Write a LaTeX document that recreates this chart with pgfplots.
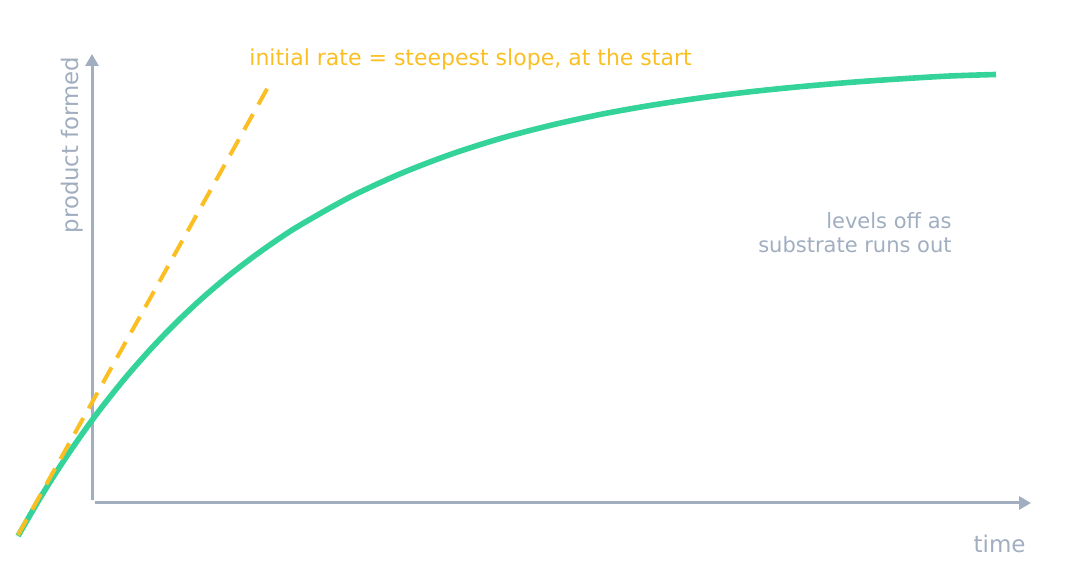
\documentclass[border=0pt]{standalone}
\usepackage{fontspec}
\setmainfont{DejaVu Sans}
\usepackage{pgfplots}
\pgfplotsset{compat=1.18}
\usetikzlibrary{arrows.meta}
\definecolor{axisgray}{HTML}{A0AEC0}
\definecolor{curvegreen}{HTML}{34D399}
\definecolor{rateorange}{HTML}{FBBF24}
\begin{document}
\begin{tikzpicture}
\begin{axis}[
    scale only axis,
    width=543pt, height=288pt,
    xmin=0, xmax=1086, ymin=0, ymax=576,
    hide axis, clip=false,
]
\path (rel axis cs:0,0) rectangle (rel axis cs:1,1);
% axes as arrows
\draw[axisgray, line width=1.5pt, -{Triangle[length=6pt,width=6.5pt]}]
    (axis cs:92,76) -- (axis cs:92,522);
\draw[axisgray, line width=1.5pt, -{Triangle[length=6pt,width=6.5pt]}]
    (axis cs:95,73) -- (axis cs:1031,73);

% product curve
\addplot[curvegreen, line width=2.8pt, smooth] coordinates {
    (18,40) (40,77.8) (60,109.6) (80,139.0) (100,166.4) (125,197.7)
    (150,226.2) (175,252.2) (200,275.8) (225,297.3) (250,316.8) (275,334.6)
    (300,350.8) (350,378.9) (400,402.1) (450,421.4) (500,437.4) (550,450.5)
    (600,461.5) (650,470.5) (700,478.0) (750,484.2) (800,489.3)
    (850,493.6) (900,497.1) (950,500.0) (996,501.5)
};

% initial rate tangent
\addplot[rateorange, line width=2pt, dash pattern=on 9pt off 5.5pt] coordinates {
    (18,41) (272,496)
};

\node[anchor=west, inner sep=0pt, text=rateorange, font=\fontsize{11}{13}\selectfont]
    at (axis cs:249,517) {initial rate = steepest slope, at the start};
\node[rotate=90, inner sep=0pt, text=axisgray, font=\fontsize{11.4}{13}\selectfont]
    at (axis cs:72.5,431) {product formed};
\node[anchor=east, inner sep=0pt, align=right, text=axisgray, font=\fontsize{10.5}{12}\selectfont]
    at (axis cs:952,343) {levels off as\\substrate runs out};
\node[anchor=east, inner sep=0pt, text=axisgray, font=\fontsize{11.5}{13}\selectfont]
    at (axis cs:1026,32) {time};
\end{axis}
\end{tikzpicture}
\end{document}
